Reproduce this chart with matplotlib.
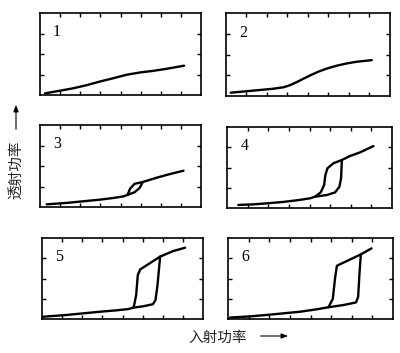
import matplotlib.pyplot as plt

plt.rcParams['font.family'] = ['Noto Sans CJK SC', 'DejaVu Sans']

# panel 1 and 2: single curves
x1 = [0.25, 1.0, 1.66, 2.32, 2.99, 3.65, 4.31, 4.98, 5.64, 6.3, 7.16]
y1 = [0.08, 0.21, 0.33, 0.48, 0.66, 0.82, 0.99, 1.10, 1.18, 1.28, 1.43]
x2 = [0.23, 1.01, 1.66, 2.31, 2.8, 3.12, 3.45, 3.77, 4.1, 4.5, 4.91, 5.4, 5.89, 6.37, 7.11]
y2 = [0.16, 0.23, 0.29, 0.35, 0.42, 0.52, 0.67, 0.83, 0.99, 1.17, 1.32, 1.46, 1.57, 1.65, 1.73]

# panels 3-6: increasing sweep (lower branch -> jump -> upper) and decreasing sweep
x3_up = [0.33, 1.33, 2.16, 2.99, 3.65, 4.15, 4.35, 4.7, 4.95, 5.11, 5.8, 6.47, 7.13]
y3_up = [0.13, 0.2, 0.28, 0.36, 0.44, 0.52, 0.59, 0.72, 0.93, 1.22, 1.43, 1.61, 1.77]
x3_dn = [5.11, 4.7, 4.48, 4.35]
y3_dn = [1.22, 1.13, 0.9, 0.59]

x4_up = [0.55, 1.28, 1.93, 2.73, 3.54, 4.03, 4.27, 4.84, 5.24, 5.45, 5.53, 5.57, 5.97, 6.46, 7.1]
y4_up = [0.15, 0.18, 0.23, 0.3, 0.4, 0.48, 0.56, 0.64, 0.77, 1.05, 1.47, 2.37, 2.57, 2.75, 3.06]
x4_dn = [5.57, 5.16, 4.87, 4.77, 4.71, 4.55, 4.27]
y4_dn = [2.37, 2.21, 1.96, 1.63, 1.14, 0.78, 0.56]

x5_up = [0.03, 1.23, 2.05, 2.89, 3.72, 4.29, 4.54, 5.04, 5.51, 5.64, 5.74, 5.87, 6.53, 7.11]
y5_up = [0.11, 0.2, 0.28, 0.36, 0.43, 0.49, 0.56, 0.63, 0.73, 0.94, 1.68, 3.08, 3.36, 3.52]
x5_dn = [5.87, 4.88, 4.76, 4.68, 4.58, 4.54]
y5_dn = [3.08, 2.45, 2.17, 1.19, 0.69, 0.56]

x6_up = [0.1, 1.07, 1.88, 2.69, 3.5, 4.31, 4.87, 5.6, 6.21, 6.31, 6.37, 6.44, 6.96]
y6_up = [0.07, 0.13, 0.2, 0.28, 0.36, 0.48, 0.58, 0.69, 0.82, 1.1, 2.17, 3.19, 3.49]
x6_dn = [6.44, 5.28, 5.19, 5.08, 4.87]
y6_dn = [3.19, 2.63, 2.01, 0.99, 0.58]

labels = ['1', '2', '3', '4', '5', '6']
curves = [
    [(x1, y1)],
    [(x2, y2)],
    [(x3_up, y3_up), (x3_dn, y3_dn)],
    [(x4_up, y4_up), (x4_dn, y4_dn)],
    [(x5_up, y5_up), (x5_dn, y5_dn)],
    [(x6_up, y6_up), (x6_dn, y6_dn)],
]

W, H = 400, 353
# panel boxes in pixels: left, right, top, bottom
boxes = [
    (40, 201, 13, 95), (226, 390, 13, 96),
    (40, 201, 125, 207), (227, 392, 127, 208),
    (42, 203, 238, 319), (228, 393, 238, 319),
]

fig = plt.figure(figsize=(W / 100, H / 100), dpi=100)
for (l, r, t, b), lab, cs in zip(boxes, labels, curves):
    ax = fig.add_axes([l / W, 1 - b / H, (r - l) / W, (b - t) / H])
    for xs, ys in cs:
        ax.plot(xs, ys, color='black', lw=1.7, solid_capstyle='round')
    ax.set_xlim(0, 8)
    ax.set_ylim(0, 4)
    ax.set_xticks(range(1, 8))
    ax.set_yticks([1, 2, 3])
    ax.tick_params(direction='in', length=3, width=1, top=True, right=True,
                   labelbottom=False, labelleft=False)
    for s in ax.spines.values():
        s.set_linewidth(1.2)
    ax.text(0.85, 3.05, lab, fontsize=11.5, family='Liberation Serif',
            ha='center', va='center')

# axis labels with arrows
fig.text(16 / W, 1 - 170 / H, '透射功率', rotation=90, fontsize=10.5,
         ha='center', va='center', color='#222222')
fig.add_artist(plt.matplotlib.patches.FancyArrowPatch(
    (16 / W, 1 - 132 / H), (16 / W, 1 - 102 / H), transform=fig.transFigure,
    arrowstyle='-|>,head_length=4,head_width=1.5', lw=0.8, color='black'))
fig.text(218 / W, 1 - 338 / H, '入射功率', fontsize=10.5,
         ha='center', va='center', color='#222222')
fig.add_artist(plt.matplotlib.patches.FancyArrowPatch(
    (258 / W, 1 - 336 / H), (291 / W, 1 - 336 / H), transform=fig.transFigure,
    arrowstyle='-|>,head_length=4,head_width=1.5', lw=0.8, color='black'))

fig.savefig('out.png', dpi=100, facecolor='white')
